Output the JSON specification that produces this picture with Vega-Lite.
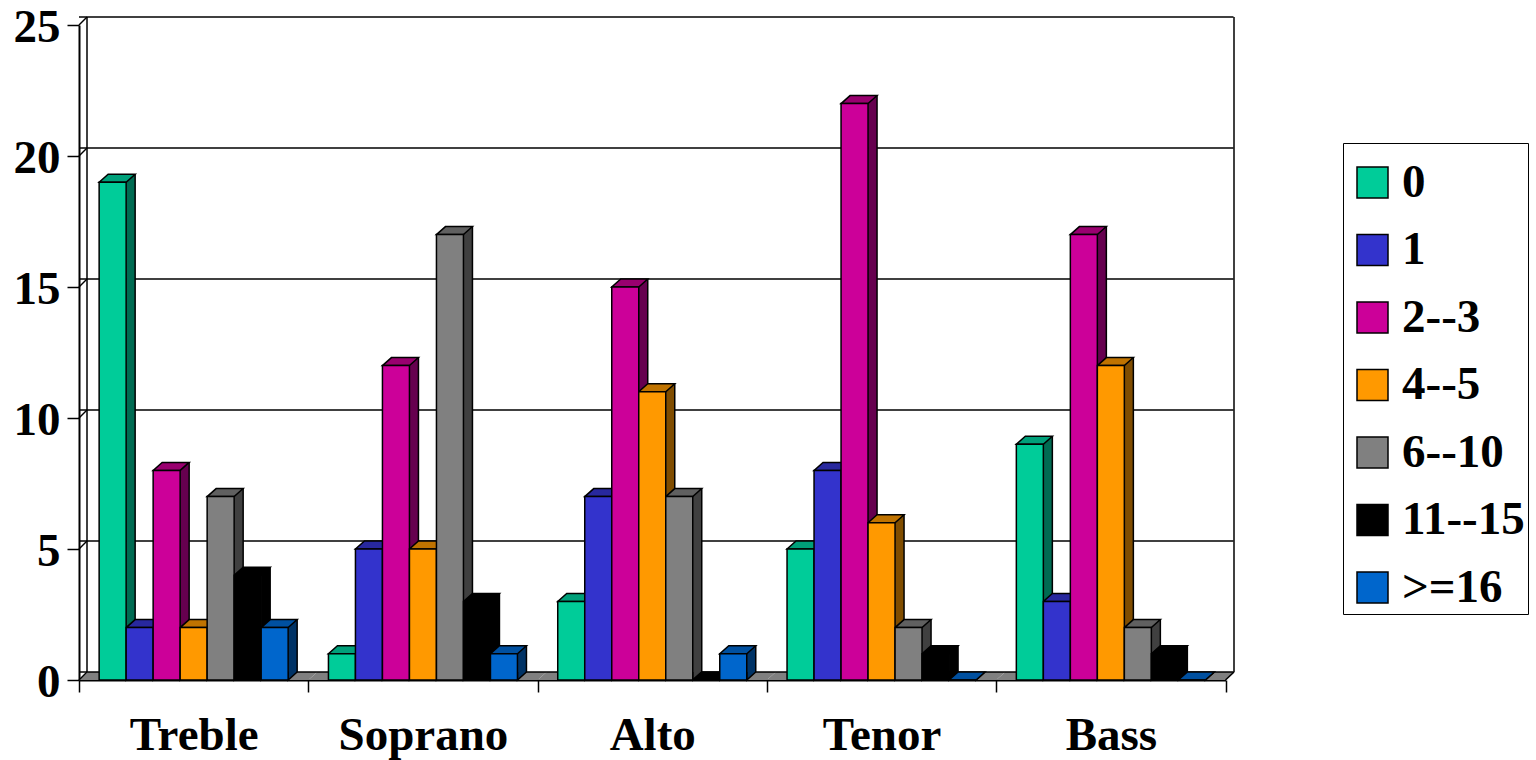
{
"$schema":"https://vega.github.io/schema/vega-lite/v6.json",
"width":1146.5,"height":655,
"autosize":{"type":"none"},
"padding":{"left":79,"top":25,"right":310.5,"bottom":80},
"background":"white",
"view":{"stroke":null},
"config":{"font":"Liberation Serif"},
"datasets":{
"bars":[
{"group":"Treble","series":"0","value":19},{"group":"Treble","series":"1","value":2},{"group":"Treble","series":"2--3","value":8},{"group":"Treble","series":"4--5","value":2},{"group":"Treble","series":"6--10","value":7},{"group":"Treble","series":"11--15","value":4},{"group":"Treble","series":">=16","value":2},
{"group":"Soprano","series":"0","value":1},{"group":"Soprano","series":"1","value":5},{"group":"Soprano","series":"2--3","value":12},{"group":"Soprano","series":"4--5","value":5},{"group":"Soprano","series":"6--10","value":17},{"group":"Soprano","series":"11--15","value":3},{"group":"Soprano","series":">=16","value":1},
{"group":"Alto","series":"0","value":3},{"group":"Alto","series":"1","value":7},{"group":"Alto","series":"2--3","value":15},{"group":"Alto","series":"4--5","value":11},{"group":"Alto","series":"6--10","value":7},{"group":"Alto","series":"11--15","value":0},{"group":"Alto","series":">=16","value":1},
{"group":"Tenor","series":"0","value":5},{"group":"Tenor","series":"1","value":8},{"group":"Tenor","series":"2--3","value":22},{"group":"Tenor","series":"4--5","value":6},{"group":"Tenor","series":"6--10","value":2},{"group":"Tenor","series":"11--15","value":1},{"group":"Tenor","series":">=16","value":0},
{"group":"Bass","series":"0","value":9},{"group":"Bass","series":"1","value":3},{"group":"Bass","series":"2--3","value":17},{"group":"Bass","series":"4--5","value":12},{"group":"Bass","series":"6--10","value":2},{"group":"Bass","series":"11--15","value":1},{"group":"Bass","series":">=16","value":0}
],
"ticks":[{"tick":0},{"tick":5},{"tick":10},{"tick":15},{"tick":20},{"tick":25}],
"groups":[{"group":"Treble"},{"group":"Soprano"},{"group":"Alto"},{"group":"Tenor"},{"group":"Bass"}]
},
"encoding":{
"x":{"field":"group","type":"nominal","title":null,
 "scale":{"domain":["Treble","Soprano","Alto","Tenor","Bass"],"paddingInner":0,"paddingOuter":0},
 "axis":{"labelAngle":0,"labelFontSize":47,"labelFontWeight":"bold","labelColor":"black","labelFont":"Liberation Serif","tickBand":"extent","tickSize":12,"tickWidth":1.5,"tickColor":"black","domainColor":"black","domainWidth":2,"labelPadding":20,"labelBaseline":"top","zindex":0}}
},
"layer":[
{"data":{"name":"groups"},
 "mark":{"type":"point","filled":true,"opacity":1,"size":4,"fill":"#808080","strokeWidth":0,"shape":"M-114.65,0 L114.65,0 L123.65,-8 L-105.65,-8 Z"},
 "encoding":{"y":{"datum":0,"type":"quantitative","scale":{"domain":[0,25],"nice":false},
   "axis":{"values":[0,5,10,15,20,25],"grid":false,"labelFontSize":47,"labelFontWeight":"bold","labelColor":"black","labelFont":"Liberation Serif","tickSize":12,"tickWidth":1.5,"tickColor":"black","domainColor":"black","domainWidth":2,"labelPadding":7,"labelOffset":2,"title":null,"zindex":0}}}},
{"data":{"name":"ticks"},
 "mark":{"type":"rule","xOffset":8,"x2Offset":9,"yOffset":-8,"stroke":"black","strokeWidth":1.5},
 "encoding":{"x":null,"y":{"field":"tick","type":"quantitative","scale":{"domain":[0,25],"nice":false}}}},
{"data":{"name":"ticks"},
 "mark":{"type":"point","filled":false,"opacity":1,"size":4,"stroke":"black","strokeWidth":1.5,"shape":"M-114.65,0 L-106.65,-8"},
 "encoding":{"x":{"datum":"Treble"},"y":{"field":"tick","type":"quantitative","scale":{"domain":[0,25],"nice":false}}}},
{"data":{"values":[{"a":0,"b":25}]},
 "mark":{"type":"rule","xOffset":8,"yOffset":-8,"y2Offset":-8,"stroke":"black","strokeWidth":1.5},
 "encoding":{"x":{"datum":"Treble","bandPosition":0},"y":{"field":"a","type":"quantitative","scale":{"domain":[0,25],"nice":false}},"y2":{"field":"b"}}},
{"data":{"values":[{"a":0,"b":25}]},
 "mark":{"type":"rule","xOffset":8.5,"yOffset":-8,"y2Offset":-8,"stroke":"black","strokeWidth":1.5},
 "encoding":{"x":{"datum":"Bass","bandPosition":1},"y":{"field":"a","type":"quantitative","scale":{"domain":[0,25],"nice":false}},"y2":{"field":"b"}}},
{"data":{"values":[{"a":0}]},
 "mark":{"type":"point","filled":false,"opacity":1,"size":4,"stroke":"black","strokeWidth":1.5,"shape":"M114.65,0 L123.15,-8"},
 "encoding":{"x":{"datum":"Bass"},"y":{"field":"a","type":"quantitative","scale":{"domain":[0,25],"nice":false}}}},
{"data":{"name":"bars"},
 "mark":{"type":"rule","strokeWidth":9,"yOffset":-8,"y2Offset":-8},
 "encoding":{
  "xOffset":{"field":"series","type":"nominal","scale":{"type":"band","domain":["0","1","2--3","4--5","6--10","11--15",">=16"],"paddingInner":0,"paddingOuter":0.746,"range":[18,247.3]}},
  "y":{"field":"value","type":"quantitative","scale":{"domain":[0,25],"nice":false}},"y2":{"datum":0},
  "stroke":{"field":"series","type":"nominal","legend":null,"scale":{"domain":["0","1","2--3","4--5","6--10","11--15",">=16"],"range":["#006B52","#1A1A6B","#66004F","#804D00","#404040","#000000","#003366"]}}}},
{"data":{"name":"bars"},
 "mark":{"type":"rule","strokeWidth":1.5,"stroke":"black","yOffset":-8,"y2Offset":-8},
 "encoding":{
  "xOffset":{"field":"series","type":"nominal","scale":{"type":"band","domain":["0","1","2--3","4--5","6--10","11--15",">=16"],"paddingInner":0,"paddingOuter":0.746,"range":[22.5,251.8]}},
  "y":{"field":"value","type":"quantitative","scale":{"domain":[0,25],"nice":false}},"y2":{"datum":0}}},
{"data":{"name":"bars"},
 "mark":{"type":"point","filled":true,"opacity":1,"size":4,"stroke":"black","strokeWidth":1.5,"shape":"M22.5,-8 L13.5,0 L13.5,-8"},
 "encoding":{"xOffset":{"field":"series","type":"nominal","scale":{"type":"band","domain":["0","1","2--3","4--5","6--10","11--15",">=16"],"paddingInner":0,"paddingOuter":0.746,"range":[0,229.3]}},"y":{"datum":0,"type":"quantitative","scale":{"domain":[0,25],"nice":false}},
  "fill":{"field":"series","type":"nominal","legend":null,"scale":{"domain":["0","1","2--3","4--5","6--10","11--15",">=16"],"range":["#006B52","#1A1A6B","#66004F","#804D00","#404040","#000000","#003366"]}}}},
{"data":{"name":"bars"},
 "mark":{"type":"point","filled":true,"opacity":1,"size":4,"stroke":"black","strokeWidth":1.5,"shape":"M-13.5,0 L13.5,0 L22.5,-8 L-4.5,-8 Z"},
 "encoding":{"xOffset":{"field":"series","type":"nominal","scale":{"type":"band","domain":["0","1","2--3","4--5","6--10","11--15",">=16"],"paddingInner":0,"paddingOuter":0.746,"range":[0,229.3]}},"y":{"field":"value","type":"quantitative","scale":{"domain":[0,25],"nice":false}},
  "fill":{"field":"series","type":"nominal","legend":null,"scale":{"domain":["0","1","2--3","4--5","6--10","11--15",">=16"],"range":["#00A07A","#28289E","#99006F","#C07300","#606060","#000000","#0050A0"]}}}},
{"data":{"name":"bars"},
 "mark":{"type":"bar","stroke":"black","strokeWidth":1.5},
 "encoding":{"xOffset":{"field":"series","type":"nominal","scale":{"type":"band","domain":["0","1","2--3","4--5","6--10","11--15",">=16"],"paddingInner":0,"paddingOuter":0.746,"range":[0,229.3]}},"y":{"field":"value","type":"quantitative","stack":null,"scale":{"domain":[0,25],"nice":false}},
  "fill":{"field":"series","type":"nominal","title":" ","scale":{"domain":["0","1","2--3","4--5","6--10","11--15",">=16"],"range":["#00CC99","#3333CC","#CC0099","#FF9900","#808080","#000000","#0066CC"]},
   "legend":{"orient":"none","legendX":1264,"legendY":118,"symbolType":"square","symbolSize":961,"symbolStrokeColor":"black","symbolStrokeWidth":1.5,"labelFontSize":47,"labelFontWeight":"bold","labelColor":"black","labelFont":"Liberation Serif","labelOffset":6,"rowPadding":19.5,"padding":3,"titleFontSize":10,"titlePadding":3,"strokeColor":"black","fillColor":"white","symbolOffset":3}}}}
],
"resolve":{"scale":{"fill":"independent","stroke":"independent","xOffset":"independent"}}
}
